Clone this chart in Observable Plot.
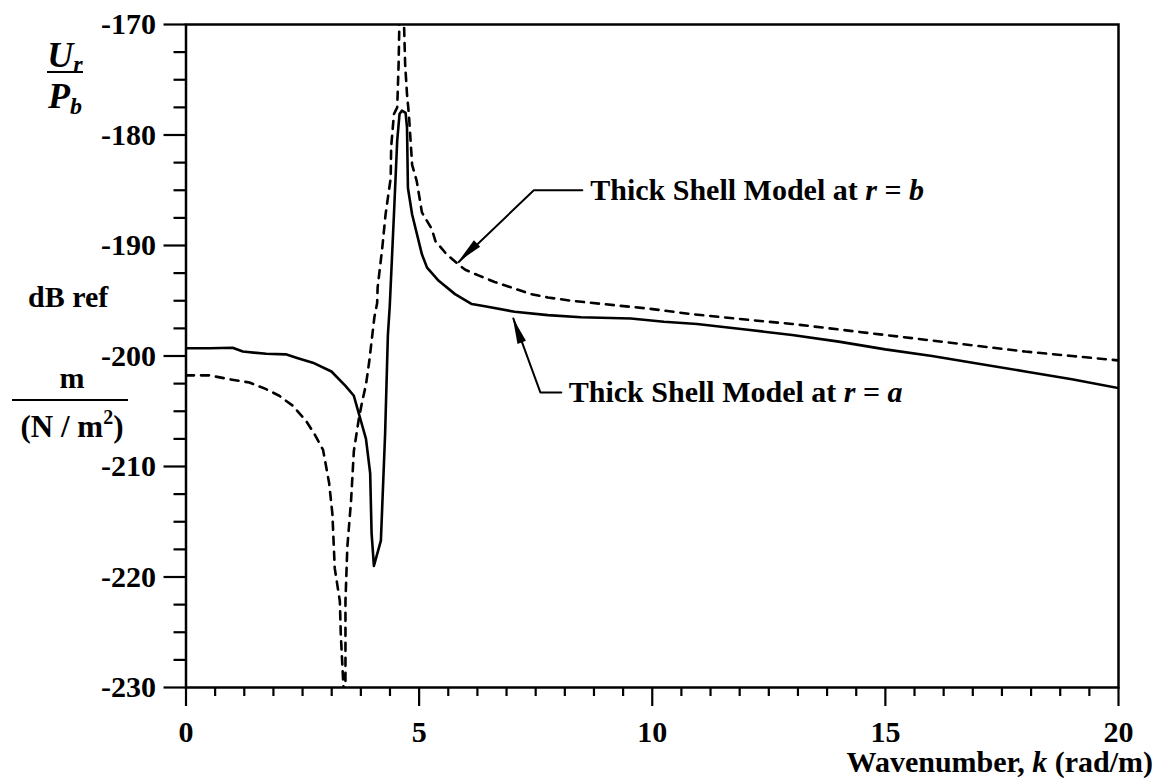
<!DOCTYPE html>
<html><head><meta charset="utf-8">
<script src="https://cdn.jsdelivr.net/npm/d3@7"></script>
<script src="https://cdn.jsdelivr.net/npm/@observablehq/plot@0.6"></script>
<style>html,body{margin:0;padding:0;background:#fff;} svg text{white-space:pre;}</style>
</head><body><div id="chart"></div>
<script>
// Thick shell model at r = a (solid)
const solidK = [0, 0.5, 1.0, 1.22, 1.72, 2.14, 2.4, 2.72, 3.12, 3.42, 3.6, 3.74, 3.86, 3.95, 3.98, 4.03, 4.18, 4.27, 4.33, 4.37, 4.46, 4.53, 4.58, 4.63, 4.71, 4.74, 4.76, 4.85, 5.06, 5.17, 5.42, 5.77, 6.13, 6.41, 7.05, 7.76, 8.47, 9.54, 10.25, 10.96, 12, 13, 14, 15, 16, 17, 18, 19, 20];
const solidV = [-199.3, -199.3, -199.25, -199.6, -199.8, -199.85, -200.2, -200.6, -201.4, -202.7, -203.6, -205.7, -207.5, -210.6, -216.0, -219.0, -216.7, -207.1, -198.1, -195.5, -187.2, -180.5, -178.1, -177.8, -178.0, -179.3, -184.8, -187.2, -190.8, -192.0, -193.2, -194.4, -195.3, -195.5, -196.0, -196.3, -196.5, -196.6, -196.9, -197.1, -197.6, -198.1, -198.7, -199.4, -200.0, -200.7, -201.4, -202.1, -202.9];
// Thick shell model at r = b (dashed)
const dashK = [0, 0.5, 0.93, 1.36, 1.72, 2.0, 2.29, 2.58, 2.76, 2.94, 3.07, 3.14, 3.19, 3.3, 3.32, 3.39, 3.42, 3.42, 3.46, 3.54, 3.6, 3.71, 3.78, 3.86, 3.93, 4.04, 4.1, 4.11, 4.21, 4.28, 4.39, 4.4, 4.46, 4.53, 4.56, 4.58, 4.67, 4.70, 4.74, 4.78, 4.85, 4.95, 5.06, 5.27, 5.35, 5.59, 5.84, 5.99, 6.27, 6.62, 7.05, 7.4, 7.76, 8.26, 9.18, 9.9, 10.82, 12, 13, 14, 15, 16, 17, 18, 19, 20];
const dashV = [-201.75, -201.75, -202.1, -202.4, -203.0, -203.6, -204.5, -205.9, -207.1, -208.5, -211.5, -214.3, -219.2, -222.2, -225.2, -231, -229.7, -222.2, -217.3, -213.1, -208.6, -205.6, -204.1, -202.6, -200.5, -196.5, -195.2, -193.8, -190.2, -187.2, -183.9, -181.1, -178.1, -177.5, -173.6, -169, -169, -173.6, -176.3, -178.1, -182.7, -184.2, -187.0, -188.5, -189.6, -190.8, -191.7, -192.2, -192.7, -193.3, -193.9, -194.4, -194.7, -195.0, -195.4, -195.7, -196.2, -196.7, -197.1, -197.6, -198.1, -198.6, -199.1, -199.6, -200.0, -200.4];

const yMajor = [-230, -220, -210, -200, -190, -180, -170];
const yMinor = [-227.5, -225, -222.5, -217.5, -215, -212.5, -207.5, -205, -202.5, -197.5, -195, -192.5, -187.5, -185, -182.5, -177.5, -175, -172.5];
const xMajor = [0, 5, 10, 15, 20];
const xMinor = [0.625, 1.25, 1.875, 2.5, 3.125, 3.75, 4.375, 5.625, 6.25, 6.875, 7.5, 8.125, 8.75, 9.375, 10.625, 11.25, 11.875, 12.5, 13.125, 13.75, 14.375, 15.625, 16.25, 16.875, 17.5, 18.125, 18.75, 19.375];

// annotation leaders: tip, elbow, end (data coordinates)
const leaderBK = [5.85, 7.46, 8.5];
const leaderBV = [-191.5, -185, -185];
const leaderAK = [7.02, 7.6, 8.05];
const leaderAV = [-196.6, -203.3, -203.3];
const labelBPos = [8.68, -185];
const labelAPos = [8.22, -203.3];

const solid = solidK.map((k, i) => ({k, v: solidV[i]}));
const dashed = dashK.map((k, i) => ({k, v: dashV[i]}));
const leaderB = leaderBK.map((k, i) => ({k, v: leaderBV[i]}));
const leaderA = leaderAK.map((k, i) => ({k, v: leaderAV[i]}));

const FONT = "'Liberation Serif', 'Times New Roman', serif";

const chart = Plot.plot({
  width: 1158, height: 781,
  marginLeft: 185.5, marginRight: 40, marginTop: 24, marginBottom: 94,
  x: {domain: [0, 20], label: null},
  y: {domain: [-230, -170], label: null},
  style: {fontFamily: FONT, fontSize: "30px", fontWeight: "bold", color: "black", background: "white", overflow: "visible"},
  marks: [
    Plot.axisY({ticks: yMinor, tickSize: 12, tickFormat: () => "", strokeWidth: 2.2, label: null}),
    Plot.axisY({ticks: yMajor, tickSize: 22, tickPadding: 8, tickFormat: d => String(d), strokeWidth: 2.2, label: null, fontSize: 30}),
    Plot.axisX({ticks: xMinor, tickSize: 9, tickFormat: () => "", strokeWidth: 2.2, label: null}),
    Plot.axisX({ticks: xMajor, tickSize: 19, tickPadding: 14, tickFormat: d => String(d), strokeWidth: 2.2, label: null, fontSize: 30}),
    Plot.frame({strokeWidth: 2.5}),
    Plot.line(solid, {x: "k", y: "v", strokeWidth: 2.6, clip: true}),
    Plot.line(dashed, {x: "k", y: "v", strokeWidth: 2.6, strokeDasharray: "8,7", clip: true}),
    Plot.line(leaderB, {x: "k", y: "v", strokeWidth: 2}),
    Plot.line(leaderA, {x: "k", y: "v", strokeWidth: 2})
  ]
});
document.getElementById("chart").append(chart);

const sx = chart.scale("x"), sy = chart.scale("y");
const X = v => sx.apply(v), Y = v => sy.apply(v);
const svg = d3.select(chart);

// filled arrowheads
function head(tk, tv, ek, ev) {
  const px = X(tk), py = Y(tv), qx = X(ek), qy = Y(ev);
  const d = Math.hypot(px - qx, py - qy), ux = (px - qx) / d, uy = (py - qy) / d;
  const L = 26, w = 4.5;
  const bx = px - ux * L, by = py - uy * L;
  svg.append("polygon")
    .attr("points", [[px, py], [bx - uy * w, by + ux * w], [bx + uy * w, by - ux * w]].map(p => p.join(",")).join(" "))
    .attr("fill", "black");
}
head(leaderBK[0], leaderBV[0], leaderBK[1], leaderBV[1]);
head(leaderAK[0], leaderAV[0], leaderAK[1], leaderAV[1]);

function label(pos, sym) {
  const t = svg.append("text").attr("x", X(pos[0])).attr("y", Y(pos[1])).attr("dy", "0.35em")
    .attr("text-anchor", "start")
    .attr("font-family", FONT).attr("font-size", 30).attr("font-weight", "bold").attr("fill", "black");
  t.append("tspan").text("Thick Shell Model at ");
  t.append("tspan").attr("font-style", "italic").text("r");
  t.append("tspan").text(" = ");
  t.append("tspan").attr("font-style", "italic").text(sym);
}
label(labelBPos, "b");
label(labelAPos, "a");

// left axis label block
const g = svg.append("g").attr("font-family", FONT).attr("font-weight", "bold").attr("fill", "black");
const u = g.append("text").attr("x", 65).attr("y", 67).attr("text-anchor", "middle").attr("font-size", 36).attr("font-style", "italic");
u.append("tspan").text("U");
u.append("tspan").attr("font-size", 24).attr("dy", 5).text("r");
g.append("line").attr("x1", 47).attr("x2", 83).attr("y1", 72).attr("y2", 72).attr("stroke", "black").attr("stroke-width", 2);
const p = g.append("text").attr("x", 65).attr("y", 108).attr("text-anchor", "middle").attr("font-size", 36).attr("font-style", "italic");
p.append("tspan").text("P");
p.append("tspan").attr("font-size", 24).attr("dy", 6).text("b");
g.append("text").attr("x", 28).attr("y", 307).attr("text-anchor", "start").attr("font-size", 30).text("dB ref");
g.append("text").attr("x", 72).attr("y", 388).attr("text-anchor", "middle").attr("font-size", 30).text("m");
g.append("line").attr("x1", 12).attr("x2", 128).attr("y1", 400).attr("y2", 400).attr("stroke", "black").attr("stroke-width", 2.2);
const n = g.append("text").attr("x", 72).attr("y", 437).attr("text-anchor", "middle").attr("font-size", 31);
n.append("tspan").text("(N / m");
n.append("tspan").attr("font-size", 20).attr("dy", -13).text("2");
n.append("tspan").attr("dy", 13).text(")");

// x axis label
const xl = g.append("text").attr("x", 1153).attr("y", 772).attr("text-anchor", "end").attr("font-size", 30);
xl.append("tspan").text("Wavenumber, ");
xl.append("tspan").attr("font-style", "italic").text("k");
xl.append("tspan").text(" (rad/m)");
</script>
</body></html>
